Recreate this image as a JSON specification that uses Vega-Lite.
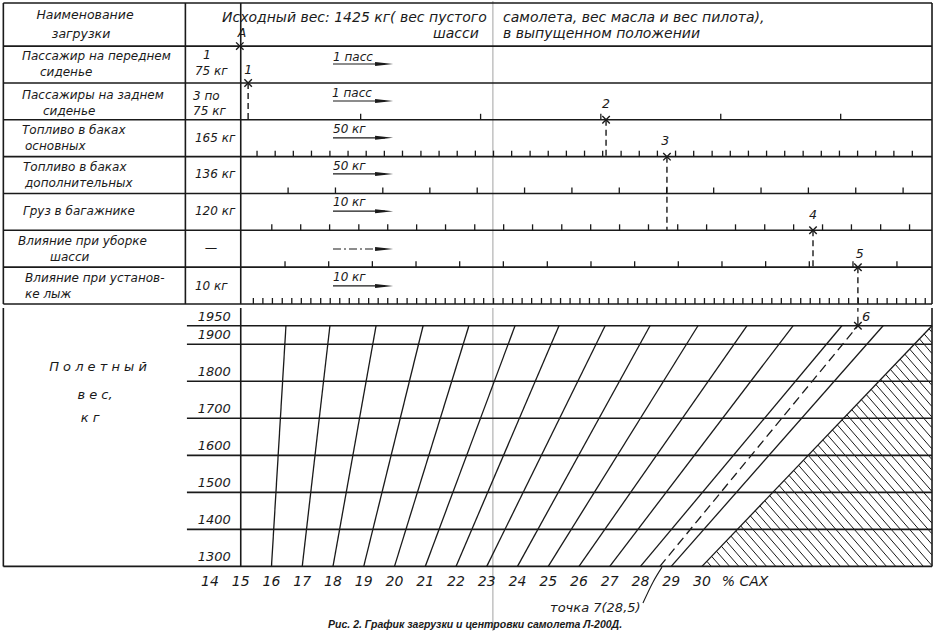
{
"$schema": "https://vega.github.io/schema/vega-lite/v6.json",
"padding": 0,
"spacing": 0,
"background": "#ffffff",
"config": {"view": {"stroke": null}},
"datasets": {
"topLines": [
{"x":7.28,"x2":37.48,"y":-0.17,"y2":-0.17},
{"x":7.28,"x2":37.48,"y":1,"y2":1},
{"x":7.28,"x2":37.48,"y":2,"y2":2},
{"x":7.28,"x2":37.48,"y":3,"y2":3},
{"x":7.28,"x2":37.48,"y":4,"y2":4},
{"x":7.28,"x2":37.48,"y":5,"y2":5},
{"x":7.28,"x2":37.48,"y":6,"y2":6},
{"x":7.28,"x2":37.48,"y":7,"y2":7},
{"x":7.28,"x2":37.48,"y":8,"y2":8},
{"x":7.28,"x2":7.28,"y":-0.17,"y2":8},
{"x":13.2,"x2":13.2,"y":-0.17,"y2":8},
{"x":15.0,"x2":15.0,"y":-0.17,"y2":8},
{"x":37.48,"x2":37.48,"y":-0.17,"y2":8}
],
"topCrease": [{"x":23.2,"x2":23.2,"y":-0.2245,"y2":8}],
"botCrease": [{"x":23.2,"x2":23.2,"y":1112,"y2":1998}],
"ticks": [
{"x":18.90,"y":3},{"x":22.80,"y":3},{"x":26.71,"y":3},{"x":30.61,"y":3},{"x":34.51,"y":3},
{"x":15.53,"y":4},{"x":16.12,"y":4},{"x":16.71,"y":4},{"x":17.30,"y":4},{"x":17.90,"y":4},{"x":18.49,"y":4},{"x":19.08,"y":4},{"x":19.67,"y":4},{"x":20.26,"y":4},{"x":20.86,"y":4},{"x":21.45,"y":4},{"x":22.04,"y":4},{"x":22.63,"y":4},{"x":23.22,"y":4},{"x":23.81,"y":4},{"x":24.41,"y":4},{"x":25.00,"y":4},{"x":25.59,"y":4},{"x":26.18,"y":4},{"x":26.77,"y":4},{"x":27.37,"y":4},{"x":27.96,"y":4},{"x":28.55,"y":4},{"x":29.14,"y":4},{"x":29.73,"y":4},{"x":30.33,"y":4},{"x":30.92,"y":4},{"x":31.51,"y":4},{"x":32.10,"y":4},{"x":32.69,"y":4},{"x":33.29,"y":4},{"x":33.88,"y":4},{"x":34.47,"y":4},{"x":35.06,"y":4},{"x":35.65,"y":4},{"x":36.24,"y":4},{"x":36.84,"y":4},
{"x":16.54,"y":5},{"x":18.08,"y":5},{"x":19.62,"y":5},{"x":21.15,"y":5},{"x":22.69,"y":5},{"x":24.23,"y":5},{"x":25.77,"y":5},{"x":27.31,"y":5},{"x":28.85,"y":5},{"x":30.38,"y":5},{"x":31.92,"y":5},{"x":33.46,"y":5},{"x":35.00,"y":5},{"x":36.54,"y":5},
{"x":16.01,"y":6},{"x":16.95,"y":6},{"x":17.89,"y":6},{"x":18.84,"y":6},{"x":19.78,"y":6},{"x":20.72,"y":6},{"x":21.66,"y":6},{"x":22.61,"y":6},{"x":23.55,"y":6},{"x":24.49,"y":6},{"x":25.44,"y":6},{"x":26.38,"y":6},{"x":27.32,"y":6},{"x":28.26,"y":6},{"x":29.21,"y":6},{"x":30.15,"y":6},{"x":31.09,"y":6},{"x":32.04,"y":6},{"x":32.98,"y":6},{"x":33.92,"y":6},{"x":34.86,"y":6},{"x":35.81,"y":6},{"x":36.75,"y":6},
{"x":16.44,"y":7},{"x":17.86,"y":7},{"x":19.28,"y":7},{"x":20.70,"y":7},{"x":22.12,"y":7},{"x":23.54,"y":7},{"x":24.97,"y":7},{"x":26.39,"y":7},{"x":27.81,"y":7},{"x":29.23,"y":7},{"x":30.65,"y":7},{"x":32.07,"y":7},{"x":33.49,"y":7},{"x":34.91,"y":7},{"x":36.34,"y":7},
{"x":15.41,"y":8},{"x":15.72,"y":8},{"x":16.03,"y":8},{"x":16.35,"y":8},{"x":16.66,"y":8},{"x":16.97,"y":8},{"x":17.28,"y":8},{"x":17.60,"y":8},{"x":17.91,"y":8},{"x":18.22,"y":8},{"x":18.53,"y":8},{"x":18.84,"y":8},{"x":19.16,"y":8},{"x":19.47,"y":8},{"x":19.78,"y":8},{"x":20.09,"y":8},{"x":20.41,"y":8},{"x":20.72,"y":8},{"x":21.03,"y":8},{"x":21.34,"y":8},{"x":21.65,"y":8},{"x":21.97,"y":8},{"x":22.28,"y":8},{"x":22.59,"y":8},{"x":22.90,"y":8},{"x":23.22,"y":8},{"x":23.53,"y":8},{"x":23.84,"y":8},{"x":24.15,"y":8},{"x":24.46,"y":8},{"x":24.78,"y":8},{"x":25.09,"y":8},{"x":25.40,"y":8},{"x":25.71,"y":8},{"x":26.03,"y":8},{"x":26.34,"y":8},{"x":26.65,"y":8},{"x":26.96,"y":8},{"x":27.27,"y":8},{"x":27.59,"y":8},{"x":27.90,"y":8},{"x":28.21,"y":8},{"x":28.52,"y":8},{"x":28.83,"y":8},{"x":29.15,"y":8},{"x":29.46,"y":8},{"x":29.77,"y":8},{"x":30.08,"y":8},{"x":30.40,"y":8},{"x":30.71,"y":8},{"x":31.02,"y":8},{"x":31.33,"y":8},{"x":31.64,"y":8},{"x":31.96,"y":8},{"x":32.27,"y":8},{"x":32.58,"y":8},{"x":32.89,"y":8},{"x":33.21,"y":8},{"x":33.52,"y":8},{"x":33.83,"y":8},{"x":34.14,"y":8},{"x":34.45,"y":8},{"x":34.77,"y":8},{"x":35.08,"y":8},{"x":35.39,"y":8},{"x":35.70,"y":8},{"x":36.02,"y":8},{"x":36.33,"y":8},{"x":36.64,"y":8},{"x":36.95,"y":8},{"x":37.26,"y":8}
],
"topGuides": [
{"x":15.24,"y":2,"y2":3},
{"x":26.88,"y":3,"y2":4},
{"x":28.86,"y":4,"y2":6},
{"x":33.61,"y":6,"y2":7},
{"x":35.07,"y":7,"y2":8}
],
"topPoints": [
{"x":14.97,"y":1},
{"x":15.24,"y":2},
{"x":26.88,"y":3},
{"x":28.86,"y":4},
{"x":33.61,"y":6},
{"x":35.07,"y":7}
],
"arrows": [
{"x":18.0,"x2":19.69,"y":1.486},
{"x":18.0,"x2":19.69,"y":2.49},
{"x":18.0,"x2":19.69,"y":3.49},
{"x":18.0,"x2":19.69,"y":4.47},
{"x":18.0,"x2":19.69,"y":5.48},
{"x":18.0,"x2":19.69,"y":7.51}
],
"arrowDashed": [{"x":18.0,"x2":19.69,"y":6.507}],
"arrowHeads": [
{"x":19.66,"y":1.486},
{"x":19.66,"y":2.49},
{"x":19.66,"y":3.49},
{"x":19.66,"y":4.47},
{"x":19.66,"y":5.48},
{"x":19.66,"y":6.507},
{"x":19.66,"y":7.51}
],
"headerText": [
{"x":14.39,"y":0.237,"text":"Исходный вес: 1425 кг( вес пустого"},
{"x":23.53,"y":0.237,"text":"самолета, вес масла и вес пилота),"},
{"x":21.25,"y":0.671,"text":"шасси"},
{"x":23.53,"y":0.671,"text":"в выпущенном положении"}
],
"topTextL": [
{"x":7.886,"y":1.268,"text":"Пассажир на переднем"},
{"x":8.472,"y":1.703,"text":"сиденье"},
{"x":7.886,"y":2.327,"text":"Пассажиры на заднем"},
{"x":8.569,"y":2.761,"text":"сиденье"},
{"x":7.886,"y":3.277,"text":"Топливо в баках"},
{"x":7.984,"y":3.711,"text":"основных"},
{"x":7.919,"y":4.282,"text":"Топливо в баках"},
{"x":7.984,"y":4.716,"text":"дополнительных"},
{"x":7.919,"y":5.476,"text":"Груз в багажнике"},
{"x":7.756,"y":6.290,"text":"Влияние при уборке"},
{"x":8.797,"y":6.724,"text":"шасси"},
{"x":7.984,"y":7.294,"text":"Влияние при установ-"},
{"x":7.984,"y":7.729,"text":"ке лыж"},
{"x":13.51,"y":1.676,"text":"75 кг"},
{"x":13.45,"y":2.354,"text":"3 по"},
{"x":13.45,"y":2.761,"text":"75 кг"},
{"x":13.51,"y":3.49,"text":"165 кг"},
{"x":13.51,"y":4.47,"text":"136 кг"},
{"x":13.51,"y":5.476,"text":"120 кг"},
{"x":13.51,"y":7.51,"text":"10 кг"},
{"x":18.0,"y":1.295,"text":"1 пасс"},
{"x":17.97,"y":2.27,"text":"1 пасс"},
{"x":18.0,"y":3.25,"text":"50 кг"},
{"x":18.0,"y":4.25,"text":"50 кг"},
{"x":18.0,"y":5.24,"text":"10 кг"},
{"x":18.0,"y":7.27,"text":"10 кг"}
],
"topTextC": [
{"x":9.935,"y":0.156,"text":"Наименование"},
{"x":9.805,"y":0.671,"text":"загрузки"},
{"x":13.90,"y":1.241,"text":"1"},
{"x":14.03,"y":6.48,"text":"—"},
{"x":15.04,"y":0.644,"text":"А"},
{"x":15.24,"y":1.65,"text":"1"},
{"x":26.88,"y":2.57,"text":"2"},
{"x":28.80,"y":3.58,"text":"3"},
{"x":33.61,"y":5.58,"text":"4"},
{"x":35.13,"y":6.64,"text":"5"}
],
"botLines": [
{"x":7.28,"x2":37.48,"y":1300,"y2":1300},
{"x":13.25,"x2":37.48,"y":1400,"y2":1400},
{"x":13.25,"x2":37.48,"y":1500,"y2":1500},
{"x":13.25,"x2":37.48,"y":1600,"y2":1600},
{"x":13.25,"x2":37.48,"y":1700,"y2":1700},
{"x":13.25,"x2":37.48,"y":1800,"y2":1800},
{"x":13.25,"x2":37.48,"y":1900,"y2":1900},
{"x":13.25,"x2":37.48,"y":1950,"y2":1950},
{"x":7.28,"x2":7.28,"y":1300,"y2":1998},
{"x":15.0,"x2":15.0,"y":1300,"y2":1998},
{"x":37.48,"x2":37.48,"y":1300,"y2":1998}
],
"slants": [
{"x":16,"x2":16.47,"y":1300,"y2":1950},
{"x":17,"x2":17.90,"y":1300,"y2":1950},
{"x":18,"x2":19.40,"y":1300,"y2":1950},
{"x":19,"x2":20.93,"y":1300,"y2":1950},
{"x":20,"x2":22.42,"y":1300,"y2":1950},
{"x":21,"x2":23.92,"y":1300,"y2":1950},
{"x":22,"x2":25.35,"y":1300,"y2":1950},
{"x":23,"x2":26.85,"y":1300,"y2":1950},
{"x":24,"x2":28.31,"y":1300,"y2":1950},
{"x":25,"x2":29.87,"y":1300,"y2":1950},
{"x":26,"x2":31.46,"y":1300,"y2":1950},
{"x":27,"x2":32.96,"y":1300,"y2":1950},
{"x":28,"x2":34.55,"y":1300,"y2":1950},
{"x":29,"x2":35.89,"y":1300,"y2":1950},
{"x":30,"x2":37.48,"y":1300,"y2":1950}
],
"botDashed": [
{"x":28.63,"x2":35.07,"y":1300,"y2":1950},
{"x":35.07,"x2":35.07,"y":1950,"y2":1998}
],
"hatch": [
{"x":30.16,"y":1313.7,"x2":30.3,"y2":1300},
{"x":30.31,"y":1327.3,"x2":30.6,"y2":1300},
{"x":30.47,"y":1341.0,"x2":30.9,"y2":1300},
{"x":30.63,"y":1354.6,"x2":31.2,"y2":1300},
{"x":30.79,"y":1368.3,"x2":31.5,"y2":1300},
{"x":30.94,"y":1382.0,"x2":31.8,"y2":1300},
{"x":31.10,"y":1395.6,"x2":32.1,"y2":1300},
{"x":31.26,"y":1409.3,"x2":32.4,"y2":1300},
{"x":31.41,"y":1422.9,"x2":32.7,"y2":1300},
{"x":31.57,"y":1436.6,"x2":33.0,"y2":1300},
{"x":31.73,"y":1450.2,"x2":33.3,"y2":1300},
{"x":31.88,"y":1463.9,"x2":33.6,"y2":1300},
{"x":32.04,"y":1477.6,"x2":33.9,"y2":1300},
{"x":32.20,"y":1491.2,"x2":34.2,"y2":1300},
{"x":32.36,"y":1504.9,"x2":34.5,"y2":1300},
{"x":32.51,"y":1518.5,"x2":34.8,"y2":1300},
{"x":32.67,"y":1532.2,"x2":35.1,"y2":1300},
{"x":32.83,"y":1545.9,"x2":35.4,"y2":1300},
{"x":32.98,"y":1559.5,"x2":35.7,"y2":1300},
{"x":33.14,"y":1573.2,"x2":36.0,"y2":1300},
{"x":33.30,"y":1586.8,"x2":36.3,"y2":1300},
{"x":33.45,"y":1600.5,"x2":36.6,"y2":1300},
{"x":33.61,"y":1614.2,"x2":36.9,"y2":1300},
{"x":33.77,"y":1627.8,"x2":37.2,"y2":1300},
{"x":33.93,"y":1641.5,"x2":37.47,"y2":1302.9},
{"x":34.08,"y":1655.1,"x2":37.47,"y2":1331.5},
{"x":34.24,"y":1668.8,"x2":37.47,"y2":1360.2},
{"x":34.40,"y":1682.5,"x2":37.47,"y2":1388.8},
{"x":34.55,"y":1696.1,"x2":37.47,"y2":1417.5},
{"x":34.71,"y":1709.8,"x2":37.47,"y2":1446.1},
{"x":34.87,"y":1723.4,"x2":37.47,"y2":1474.8},
{"x":35.02,"y":1737.1,"x2":37.47,"y2":1503.4},
{"x":35.18,"y":1750.7,"x2":37.47,"y2":1532.1},
{"x":35.34,"y":1764.4,"x2":37.47,"y2":1560.7},
{"x":35.50,"y":1778.1,"x2":37.47,"y2":1589.4},
{"x":35.65,"y":1791.7,"x2":37.47,"y2":1618.0},
{"x":35.81,"y":1805.4,"x2":37.47,"y2":1646.7},
{"x":35.97,"y":1819.0,"x2":37.47,"y2":1675.3},
{"x":36.12,"y":1832.7,"x2":37.47,"y2":1704.0},
{"x":36.28,"y":1846.4,"x2":37.47,"y2":1732.6},
{"x":36.44,"y":1860.0,"x2":37.47,"y2":1761.3},
{"x":36.59,"y":1873.7,"x2":37.47,"y2":1789.9},
{"x":36.75,"y":1887.3,"x2":37.47,"y2":1818.6},
{"x":36.91,"y":1901.0,"x2":37.47,"y2":1847.2},
{"x":37.07,"y":1914.7,"x2":37.47,"y2":1875.9},
{"x":37.22,"y":1928.3,"x2":37.47,"y2":1904.5},
{"x":37.38,"y":1942.0,"x2":37.47,"y2":1933.2}
],
"botPoints": [{"x":35.07,"y":1950}],
"pointer": [{"x":28.08,"y":1201},{"x":28.41,"y":1258},{"x":28.70,"y":1298}],
"kgLabels": [
{"x":14.68,"y":1950,"text":"1950"},
{"x":14.68,"y":1900,"text":"1900"},
{"x":14.68,"y":1800,"text":"1800"},
{"x":14.68,"y":1700,"text":"1700"},
{"x":14.68,"y":1600,"text":"1600"},
{"x":14.68,"y":1500,"text":"1500"},
{"x":14.68,"y":1400,"text":"1400"},
{"x":14.68,"y":1300,"text":"1300"}
],
"caxLabels": [
{"x":14,"y":1300,"text":"14"},{"x":15,"y":1300,"text":"15"},{"x":16,"y":1300,"text":"16"},{"x":17,"y":1300,"text":"17"},{"x":18,"y":1300,"text":"18"},{"x":19,"y":1300,"text":"19"},{"x":20,"y":1300,"text":"20"},{"x":21,"y":1300,"text":"21"},{"x":22,"y":1300,"text":"22"},{"x":23,"y":1300,"text":"23"},{"x":24,"y":1300,"text":"24"},{"x":25,"y":1300,"text":"25"},{"x":26,"y":1300,"text":"26"},{"x":27,"y":1300,"text":"27"},{"x":28,"y":1300,"text":"28"},{"x":29,"y":1300,"text":"29"},{"x":30,"y":1300,"text":"30"},{"x":31.4,"y":1300,"text":"% САХ"}
],
"botTextL": [
{"x":25.06,"y":1187.6,"text":"точка 7(28,5)"},
{"x":35.2,"y":1972.6,"text":"6"}
],
"botTextC": [
{"x":10.36,"y":1838.6,"text":"П о л е т н ы й"},
{"x":10.26,"y":1763,"text":"в е с,"},
{"x":10.10,"y":1700.9,"text":"к г"}
],
"caption": [{"x":22.62,"y":1141.7,"text":"Рис. 2. График загрузки и центровки самолета Л-200Д."}]
},
"vconcat": [
{
"width": 940, "height": 303,
"encoding": {
"x": {"field":"x","type":"quantitative","scale":{"domain":[7.171,37.74],"nice":false,"zero":false},"axis":null},
"y": {"field":"y","type":"quantitative","scale":{"domain":[-0.2245,8],"nice":false,"zero":false,"reverse":true},"axis":null}
},
"layer": [
{"data":{"name":"topCrease"},"mark":{"type":"rule","color":"#8a8a8a","strokeWidth":0.8},"encoding":{"x2":{"field":"x2"},"y2":{"field":"y2"}}},
{"data":{"name":"topLines"},"mark":{"type":"rule","color":"#1a1a1a","strokeWidth":1.6},"encoding":{"x2":{"field":"x2"},"y2":{"field":"y2"}}},
{"data":{"name":"ticks"},"mark":{"type":"point","shape":"M0,0L0,-1","size":144,"filled":false,"opacity":1,"stroke":"#1a1a1a","strokeWidth":1.3}},
{"data":{"name":"topGuides"},"mark":{"type":"rule","color":"#1a1a1a","strokeWidth":1.4,"strokeDash":[6,4]},"encoding":{"y2":{"field":"y2"}}},
{"data":{"name":"topPoints"},"mark":{"type":"point","shape":"M-1,-1L1,1M-1,1L1,-1","size":56,"filled":false,"opacity":1,"stroke":"#1a1a1a","strokeWidth":1.4}},
{"data":{"name":"arrows"},"mark":{"type":"rule","color":"#1a1a1a","strokeWidth":1.2},"encoding":{"x2":{"field":"x2"}}},
{"data":{"name":"arrowDashed"},"mark":{"type":"rule","color":"#1a1a1a","strokeWidth":1.2,"strokeDash":[8,3,2,3]},"encoding":{"x2":{"field":"x2"}}},
{"data":{"name":"arrowHeads"},"mark":{"type":"point","shape":"M-1,-0.22L1,0L-1,0.22Z","size":324,"filled":true,"opacity":1,"color":"#1a1a1a"}},
{"data":{"name":"headerText"},"mark":{"type":"text","align":"left","baseline":"middle","font":"DejaVu Sans","fontStyle":"italic","fontSize":14,"color":"#1a1a1a"},"encoding":{"text":{"field":"text"}}},
{"data":{"name":"topTextL"},"mark":{"type":"text","align":"left","baseline":"middle","font":"DejaVu Sans","fontStyle":"italic","fontSize":12,"color":"#1a1a1a"},"encoding":{"text":{"field":"text"}}},
{"data":{"name":"topTextC"},"mark":{"type":"text","align":"center","baseline":"middle","font":"DejaVu Sans","fontStyle":"italic","fontSize":12.5,"color":"#1a1a1a"},"encoding":{"text":{"field":"text"}}}
]
},
{
"width": 940, "height": 328,
"encoding": {
"x": {"field":"x","type":"quantitative","scale":{"domain":[7.171,37.74],"nice":false,"zero":false},"axis":null},
"y": {"field":"y","type":"quantitative","scale":{"domain":[1112,1998],"nice":false,"zero":false},"axis":null}
},
"layer": [
{"data":{"name":"botCrease"},"mark":{"type":"rule","color":"#8a8a8a","strokeWidth":0.8},"encoding":{"x2":{"field":"x2"},"y2":{"field":"y2"}}},
{"data":{"name":"hatch"},"mark":{"type":"rule","color":"#1a1a1a","strokeWidth":1.0},"encoding":{"x2":{"field":"x2"},"y2":{"field":"y2"}}},
{"data":{"name":"botLines"},"mark":{"type":"rule","color":"#1a1a1a","strokeWidth":1.6},"encoding":{"x2":{"field":"x2"},"y2":{"field":"y2"}}},
{"data":{"name":"slants"},"mark":{"type":"rule","color":"#1a1a1a","strokeWidth":1.3},"encoding":{"x2":{"field":"x2"},"y2":{"field":"y2"}}},
{"data":{"name":"botDashed"},"mark":{"type":"rule","color":"#1a1a1a","strokeWidth":1.3,"strokeDash":[9,5]},"encoding":{"x2":{"field":"x2"},"y2":{"field":"y2"}}},
{"data":{"name":"botPoints"},"mark":{"type":"point","shape":"M-1,-1L1,1M-1,1L1,-1","size":56,"filled":false,"opacity":1,"stroke":"#1a1a1a","strokeWidth":1.4}},
{"data":{"name":"pointer"},"mark":{"type":"line","color":"#1a1a1a","strokeWidth":1.1,"interpolate":"monotone"}},
{"data":{"name":"kgLabels"},"mark":{"type":"text","align":"right","baseline":"middle","dy":-9,"font":"DejaVu Sans","fontStyle":"italic","fontSize":13,"color":"#1a1a1a"},"encoding":{"text":{"field":"text"}}},
{"data":{"name":"caxLabels"},"mark":{"type":"text","align":"center","baseline":"middle","dy":16,"font":"DejaVu Sans","fontStyle":"italic","fontSize":14,"color":"#1a1a1a"},"encoding":{"text":{"field":"text"}}},
{"data":{"name":"botTextL"},"mark":{"type":"text","align":"left","baseline":"middle","font":"DejaVu Sans","fontStyle":"italic","fontSize":13,"color":"#1a1a1a"},"encoding":{"text":{"field":"text"}}},
{"data":{"name":"botTextC"},"mark":{"type":"text","align":"center","baseline":"middle","font":"DejaVu Sans","fontStyle":"italic","fontSize":13,"color":"#1a1a1a"},"encoding":{"text":{"field":"text"}}},
{"data":{"name":"caption"},"mark":{"type":"text","align":"center","baseline":"middle","font":"Liberation Sans","fontStyle":"italic","fontWeight":"bold","fontSize":10.5,"color":"#1a1a1a"},"encoding":{"text":{"field":"text"}}}
]
}
]
}
